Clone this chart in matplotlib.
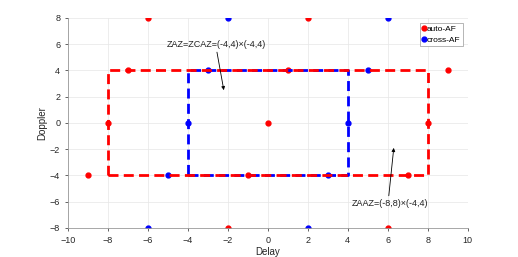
import matplotlib.pyplot as plt

plt.rcParams['font.family'] = ['Liberation Sans', 'DejaVu Sans']

# auto-AF and cross-AF terms (delay, doppler)
auto_x = [-6, 2, -7, 1, 9, -8, 0, 8, -9, -1, 7, -2, 6]
auto_y = [8, 8, 4, 4, 4, 0, 0, 0, -4, -4, -4, -8, -8]
cross_x = [-2, 6, -3, 5, -4, 4, -5, 3, -6, 2]
cross_y = [8, 8, 4, 4, 0, 0, -4, -4, -8, -8]

# zone boundaries
zaaz_x = [-8, 8, 8, -8, -8]
zaaz_y = [-4, -4, 4, 4, -4]
zaz_x = [-4, 4, 4, -4, -4]
zaz_y = [-4, -4, 4, 4, -4]

fig = plt.figure(figsize=(5.18, 2.57), dpi=100)
ax = fig.add_axes([0.131, 0.113, 0.772, 0.817])

ax.plot(auto_x, auto_y, 'o', color='red', markersize=3.5, label='auto-AF')
ax.plot(cross_x, cross_y, 'o', color='blue', markersize=3.5, label='cross-AF')
ax.plot(zaz_x, zaz_y, '--', color='blue', linewidth=2, dashes=(3.6, 1.9))
ax.plot(zaaz_x, zaaz_y, '--', color='red', linewidth=2, dashes=(3.6, 1.9))

ax.annotate('ZAZ=ZCAZ=(-4,4)\u00d7(-4,4)', xy=(-2.2, 2.5), xytext=(-5.05, 5.95),
            fontsize=6.5, color='#222222', va='center',
            arrowprops=dict(arrowstyle='-|>', color='black', lw=0.6, mutation_scale=5,
                            shrinkA=0, shrinkB=0, relpos=(0.5, 0)))
ax.annotate('ZAAZ=(-8,8)\u00d7(-4,4)', xy=(6.3, -1.9), xytext=(4.2, -6.1),
            fontsize=6.5, color='#222222', va='center',
            arrowprops=dict(arrowstyle='-|>', color='black', lw=0.6, mutation_scale=5,
                            shrinkA=0, shrinkB=0, relpos=(0.48, 1)))

ax.set_xlim(-10, 10)
ax.set_ylim(-8, 8)
ax.set_xticks(range(-10, 11, 2))
ax.set_yticks(range(-8, 9, 2))
ax.tick_params(labelsize=6.5, length=2, width=0.5, colors='#262626')
ax.grid(True, color='#e6e6e6', linewidth=0.5)
for s in ['top', 'right']:
    ax.spines[s].set_visible(False)
for s in ['bottom', 'left']:
    ax.spines[s].set_color('#999999')
    ax.spines[s].set_linewidth(0.6)
ax.set_xlabel('Delay', fontsize=7, color='#262626', labelpad=2)
ax.set_ylabel('Doppler', fontsize=7, color='#262626', labelpad=2)

leg = ax.legend(loc='upper right', fontsize=6, handlelength=0.4, handletextpad=0.1,
                borderpad=0.3, labelspacing=0.3, fancybox=False, framealpha=1,
                borderaxespad=0.6)
leg.get_frame().set_edgecolor('#999999')
leg.get_frame().set_linewidth(0.5)

fig.savefig('out.png', dpi=100)
